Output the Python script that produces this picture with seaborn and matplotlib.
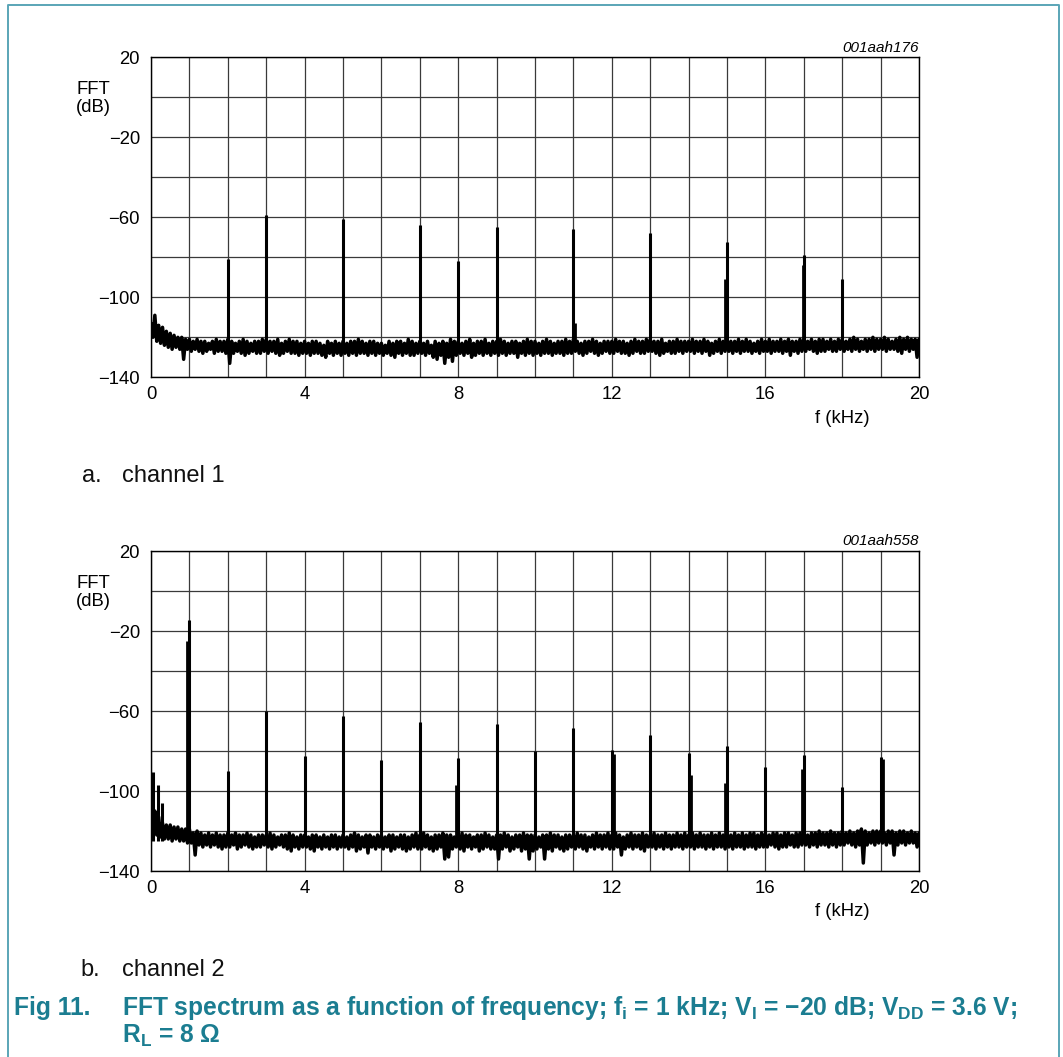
import numpy as np
import pandas as pd
import matplotlib
matplotlib.use("Agg")
import matplotlib.pyplot as plt
import seaborn as sns

# ---------------- data ----------------
freq_step_khz = 0.1  # noise-floor envelope sampled every 0.1 kHz, 0..20 kHz

# channel 1 noise floor: upper / lower envelope (dB)
ch1_noise_hi = [
    -113, -109, -114, -115, -117, -118, -119, -120, -120, -121,
    -121, -122, -121, -122, -122, -123, -122, -121, -122, -122,
    -121, -122, -123, -122, -121, -122, -123, -122, -122, -121,
    -121, -122, -122, -121, -123, -122, -121, -122, -122, -123,
    -122, -123, -122, -122, -123, -124, -122, -123, -122, -123,
    -122, -123, -122, -122, -121, -122, -123, -122, -122, -123,
    -123, -124, -122, -123, -122, -122, -123, -121, -122, -123,
    -122, -123, -122, -124, -122, -123, -122, -123, -121, -122,
    -122, -123, -122, -121, -123, -122, -122, -121, -123, -122,
    -122, -121, -122, -123, -122, -122, -123, -122, -121, -122,
    -122, -123, -122, -121, -122, -123, -122, -122, -121, -122,
    -121, -122, -123, -122, -122, -121, -122, -123, -122, -122,
    -122, -121, -122, -122, -123, -122, -121, -122, -122, -121,
    -121, -122, -122, -121, -123, -122, -122, -121, -122, -122,
    -122, -121, -122, -122, -121, -122, -123, -122, -121, -122,
    -121, -122, -122, -121, -122, -121, -122, -123, -122, -121,
    -122, -121, -122, -122, -121, -122, -121, -122, -122, -121,
    -121, -122, -121, -122, -121, -121, -122, -121, -122, -121,
    -121, -122, -121, -120, -121, -122, -121, -121, -120, -121,
    -121, -120, -121, -122, -121, -120, -121, -120, -121, -121,
    -121,
]
ch1_noise_lo = [
    -120, -122, -123, -124, -125, -126, -125, -126, -131, -126,
    -127, -126, -127, -128, -127, -126, -128, -127, -127, -128,
    -133, -128, -127, -128, -129, -128, -127, -128, -128, -127,
    -128, -127, -128, -129, -128, -127, -128, -128, -129, -128,
    -128, -129, -128, -128, -129, -130, -128, -129, -128, -129,
    -128, -129, -128, -129, -128, -128, -129, -128, -129, -128,
    -129, -128, -129, -130, -128, -129, -128, -129, -129, -128,
    -128, -129, -128, -130, -131, -129, -133, -130, -132, -129,
    -128, -129, -128, -130, -129, -128, -129, -128, -129, -128,
    -129, -128, -129, -128, -128, -130, -128, -129, -128, -129,
    -128, -129, -128, -128, -129, -128, -128, -129, -128, -128,
    -127, -128, -129, -128, -127, -128, -129, -128, -127, -128,
    -128, -127, -128, -128, -129, -128, -127, -128, -128, -127,
    -127, -128, -129, -128, -127, -128, -128, -127, -128, -127,
    -127, -128, -127, -128, -127, -129, -128, -127, -128, -127,
    -127, -128, -127, -128, -127, -127, -128, -127, -128, -127,
    -127, -128, -127, -127, -128, -127, -129, -127, -128, -127,
    -127, -126, -127, -128, -127, -127, -126, -127, -127, -126,
    -127, -126, -127, -126, -127, -126, -127, -126, -127, -126,
    -126, -127, -126, -126, -127, -128, -126, -127, -126, -130,
    -127,
]
# channel 1 spectral lines
ch1_peak_khz = [2, 3, 5, 7, 8, 9, 11, 13, 15, 17, 18]
ch1_peak_db = [-81, -59, -61, -64, -82, -65, -66, -68, -72.5, -79, -91]
ch1_shoulder_khz = [11.05, 14.95, 16.97]
ch1_shoulder_db = [-113, -91, -84]

# channel 2 noise floor
ch2_noise_hi = [
    -114, -110, -113, -116, -117, -117, -118, -118, -119, -119,
    -119, -121, -120, -121, -122, -121, -122, -121, -122, -122,
    -121, -122, -121, -122, -122, -121, -122, -123, -122, -122,
    -122, -121, -122, -123, -122, -122, -121, -122, -123, -122,
    -122, -123, -122, -122, -123, -122, -123, -122, -122, -123,
    -122, -123, -122, -121, -122, -123, -122, -122, -123, -122,
    -122, -123, -122, -122, -123, -122, -122, -123, -122, -121,
    -122, -121, -122, -123, -122, -122, -121, -122, -122, -123,
    -122, -121, -122, -122, -123, -122, -122, -121, -122, -123,
    -122, -122, -121, -122, -123, -122, -122, -121, -122, -122,
    -122, -123, -122, -122, -121, -122, -122, -123, -122, -122,
    -122, -121, -122, -122, -123, -122, -121, -122, -122, -121,
    -122, -121, -122, -123, -122, -121, -122, -122, -121, -122,
    -122, -121, -122, -122, -121, -122, -122, -121, -122, -121,
    -122, -121, -122, -121, -122, -122, -121, -122, -121, -122,
    -121, -122, -121, -122, -121, -122, -121, -121, -122, -121,
    -121, -122, -121, -121, -122, -121, -121, -122, -121, -121,
    -121, -122, -121, -121, -120, -121, -121, -120, -121, -121,
    -120, -121, -120, -121, -120, -119, -120, -121, -120, -120,
    -120, -121, -120, -120, -121, -120, -120, -121, -120, -121,
    -121,
]
ch2_noise_lo = [
    -118, -122, -123, -124, -124, -125, -124, -125, -125, -126,
    -126, -132, -127, -128, -127, -128, -127, -128, -129, -128,
    -128, -127, -129, -128, -127, -128, -129, -128, -128, -127,
    -128, -129, -128, -127, -128, -129, -130, -128, -129, -128,
    -128, -129, -130, -128, -129, -128, -129, -128, -129, -128,
    -128, -129, -128, -130, -129, -128, -131, -128, -129, -128,
    -129, -128, -130, -129, -128, -129, -130, -129, -128, -129,
    -129, -128, -129, -130, -129, -128, -134, -133, -129, -128,
    -129, -130, -128, -129, -128, -130, -129, -128, -129, -129,
    -134, -129, -128, -130, -129, -128, -130, -129, -134, -130,
    -129, -128, -134, -129, -130, -128, -129, -130, -129, -128,
    -129, -128, -129, -130, -128, -129, -128, -129, -128, -129,
    -129, -128, -132, -129, -128, -129, -128, -129, -130, -128,
    -128, -129, -128, -129, -128, -129, -128, -128, -129, -128,
    -128, -129, -128, -128, -129, -128, -129, -128, -128, -129,
    -128, -129, -128, -128, -129, -128, -128, -129, -128, -128,
    -128, -127, -128, -129, -128, -128, -127, -128, -128, -127,
    -127, -128, -127, -128, -127, -127, -128, -127, -128, -127,
    -127, -126, -127, -128, -127, -136, -127, -126, -127, -126,
    -126, -127, -126, -132, -127, -126, -127, -126, -126, -128,
    -127,
]
ch2_peak_khz = [0.06, 0.17, 0.29, 1, 2, 3, 4, 5, 6, 7, 8, 9, 10,
                11, 12, 13, 14, 15, 16, 17, 18, 19]
ch2_peak_db = [-90.5, -97, -106, -14.5, -90, -60, -82.5, -62.5, -84.5,
               -65.5, -83.5, -66.5, -80, -68.5, -79.5, -72, -81, -77.5,
               -88, -82, -98, -83]
ch2_shoulder_khz = [0.95, 7.95, 12.05, 14.05, 14.95, 16.95, 19.05]
ch2_shoulder_db = [-25, -97, -81.5, -92, -96, -89, -84]

x_ticks = list(range(0, 21))
x_tick_labels = ["0", "", "", "", "4", "", "", "", "8", "", "", "", "12",
                 "", "", "", "16", "", "", "", "20"]
y_ticks = list(range(-140, 21, 20))
y_tick_labels = ["\u2212140", "", "\u2212100", "", "\u221260", "",
                 "\u221220", "", "20"]

# ---------------- style ----------------
sns.set_theme(style="white")
plt.rcParams["font.family"] = ["Liberation Sans", "DejaVu Sans"]
plt.rcParams["mathtext.fontset"] = "custom"
plt.rcParams["mathtext.rm"] = "Liberation Sans:bold"
plt.rcParams["mathtext.it"] = "Liberation Sans:bold:italic"
plt.rcParams["mathtext.bf"] = "Liberation Sans:bold"

W, H = 1063, 1057
fig = plt.figure(figsize=(W / 100, H / 100), dpi=100)
fig.patch.set_facecolor("white")

TEAL = "#1b7d91"
FRAME = "#5aa5b7"


def px(x, y):
    return x / W, 1 - y / H


def draw_panel(top_px, noise_hi, noise_lo, peak_f, peak_db, sh_f, sh_db, code):
    bottom_px = top_px + 320
    ax = fig.add_axes([151 / W, 1 - bottom_px / H, 768 / W, 320 / H])
    n = len(noise_hi)
    fgrid = np.round(np.arange(n) * freq_step_khz, 3)
    xs, ys = [], []
    for f, hi, lo in zip(fgrid, noise_hi, noise_lo):
        xs += [f, min(f + freq_step_khz / 2, 20.0)]
        ys += [hi, lo]
    df = pd.DataFrame({"f": xs, "db": ys})
    sns.lineplot(data=df, x="f", y="db", sort=False, estimator=None,
                 color="black", lw=2.5, ax=ax, zorder=4)
    ax.vlines(peak_f, -125, peak_db, color="black", lw=2.2, zorder=5)
    ax.vlines(sh_f, -125, sh_db, color="black", lw=2.0, zorder=5)

    ax.set_xlim(0, 20)
    ax.set_ylim(-140, 20)
    ax.set_xticks(x_ticks)
    ax.set_xticklabels(x_tick_labels)
    ax.set_yticks(y_ticks)
    ax.set_yticklabels(y_tick_labels)
    ax.tick_params(axis="both", length=0, labelsize=13.3, colors="black")
    ax.tick_params(axis="x", pad=6.5)
    ax.tick_params(axis="y", pad=8)
    ax.set_xlabel("")
    ax.set_ylabel("")
    ax.grid(True, color="#3a3a3a", lw=0.9, zorder=1)
    ax.set_axisbelow(True)
    for s in ax.spines.values():
        s.set_visible(True)
        s.set_color("black")
        s.set_linewidth(1.0)

    fig.text(*px(93, top_px + 37.2), "FFT", ha="center", va="baseline",
             fontsize=13.3, color="black")
    fig.text(*px(93, top_px + 54.5), "(dB)", ha="center", va="baseline",
             fontsize=13.3, color="black")
    fig.text(*px(842, top_px + 365.5), "f (kHz)", ha="center", va="baseline",
             fontsize=13.3, color="black")
    fig.text(*px(919, top_px - 5.6), code, ha="right", va="baseline",
             fontsize=11, style="italic", color="black")
    return ax


draw_panel(57.3, ch1_noise_hi, ch1_noise_lo, ch1_peak_khz, ch1_peak_db,
           ch1_shoulder_khz, ch1_shoulder_db, "001aah176")
draw_panel(551.0, ch2_noise_hi, ch2_noise_lo, ch2_peak_khz, ch2_peak_db,
           ch2_shoulder_khz, ch2_shoulder_db, "001aah558")

# sub-captions
fig.text(*px(82, 482), "a.", ha="left", va="baseline", fontsize=17, color="#111111")
fig.text(*px(121.5, 482), "channel 1", ha="left", va="baseline", fontsize=17, color="#111111")
fig.text(*px(80, 976), "b.", ha="left", va="baseline", fontsize=17, color="#111111")
fig.text(*px(121.5, 976), "channel 2", ha="left", va="baseline", fontsize=17, color="#111111")

# figure caption
CAP = 17.7
fig.text(*px(14, 1015), "Fig 11.", ha="left", va="baseline", fontsize=CAP,
         fontweight="bold", color=TEAL)
fig.text(*px(122, 1015),
         "FFT spectrum as a function of frequency; f$_\\mathrm{i}$ = 1 kHz; "
         "V$_\\mathrm{I}$ = \u221220 dB; V$_\\mathrm{DD}$ = 3.6 V;",
         ha="left", va="baseline", fontsize=CAP, fontweight="bold", color=TEAL)
fig.text(*px(122, 1043), "R$_\\mathrm{L}$ = 8 \u03a9", ha="left", va="baseline",
         fontsize=CAP, fontweight="bold", color=TEAL)

# frame
frame_x = [8 / W, 8 / W, 1059 / W, 1059 / W]
frame_y = [0, 1 - 4.5 / H, 1 - 4.5 / H, 0]
fig.add_artist(plt.Line2D(frame_x, frame_y, color=FRAME, lw=1.4,
                          transform=fig.transFigure))

fig.savefig("out.png", dpi=100, facecolor="white")
